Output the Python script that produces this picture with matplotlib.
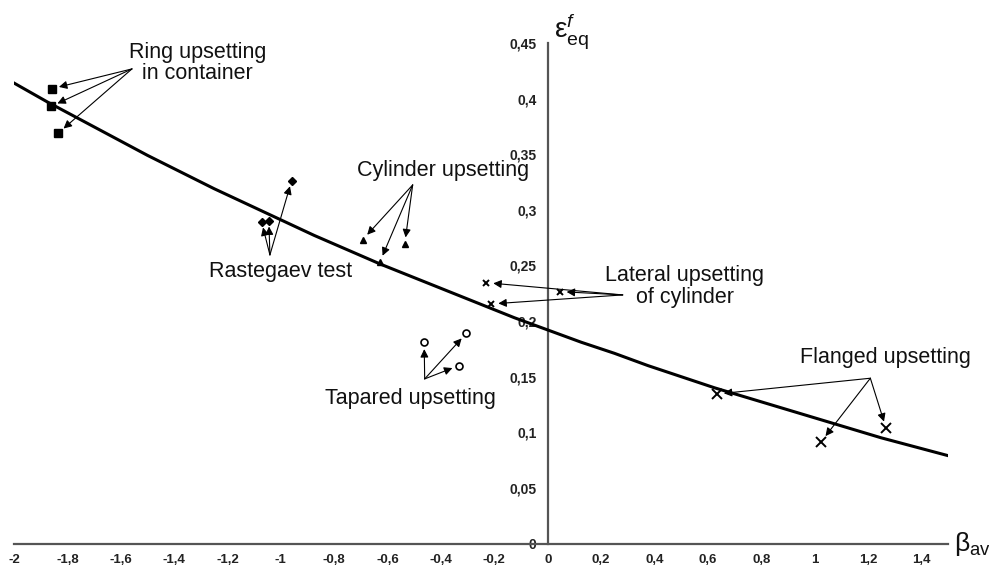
import matplotlib
matplotlib.use("Agg")
import matplotlib.pyplot as plt

plt.rcParams['font.family'] = ['Liberation Sans', 'DejaVu Sans']
plt.rcParams['mathtext.fontset'] = 'custom'
plt.rcParams['mathtext.rm'] = 'Liberation Sans'
plt.rcParams['mathtext.it'] = 'Liberation Sans:italic'

# fitted curve
curve_x = [-2.0, -1.875, -1.75, -1.625, -1.5, -1.375, -1.25, -1.125, -1.0,
           -0.875, -0.75, -0.625, -0.5, -0.375, -0.25, -0.125, 0.0,
           0.125, 0.25, 0.375, 0.5, 0.625, 0.75, 0.875, 1.0,
           1.125, 1.25, 1.375, 1.5]
curve_y = [0.414, 0.397, 0.381, 0.365, 0.349, 0.334, 0.319, 0.305, 0.291,
           0.277, 0.264, 0.251, 0.239, 0.227, 0.215, 0.203, 0.192,
           0.181, 0.171, 0.160, 0.150, 0.140, 0.131, 0.122, 0.113,
           0.104, 0.095, 0.087, 0.079]

# experimental points
ring_x = [-1.857, -1.861, -1.834]
ring_y = [0.409, 0.393, 0.369]
rast_x = [-1.072, -1.045, -0.960]
rast_y = [0.289, 0.290, 0.326]
cyl_x = [-0.694, -0.629, -0.536]
cyl_y = [0.273, 0.253, 0.269]
lat_x = [-0.230, -0.211, 0.045]
lat_y = [0.2345, 0.2154, 0.2265]
tap_x = [-0.463, -0.305, -0.333]
tap_y = [0.181, 0.189, 0.160]
fl_x = [0.634, 1.025, 1.268]
fl_y = [0.1344, 0.0916, 0.1036]

x_ticks = [-2, -1.8, -1.6, -1.4, -1.2, -1, -0.8, -0.6, -0.4, -0.2,
           0, 0.2, 0.4, 0.6, 0.8, 1, 1.2, 1.4]
x_labels = ["-2", "-1,8", "-1,6", "-1,4", "-1,2", "-1", "-0,8", "-0,6", "-0,4", "-0,2",
            "0", "0,2", "0,4", "0,6", "0,8", "1", "1,2", "1,4"]
y_ticks = [0, 0.05, 0.1, 0.15, 0.2, 0.25, 0.3, 0.35, 0.4, 0.45]
y_labels = ["0", "0,05", "0,1", "0,15", "0,2", "0,25", "0,3", "0,35", "0,4", "0,45"]

fig = plt.figure(figsize=(9.89, 5.68), dpi=100)
ax = fig.add_axes([14 / 989, 24.5 / 568, 934 / 989, 500.5 / 568])
ax.set_xlim(-2, 1.5)
ax.set_ylim(0, 0.45)

for s in ['top', 'right']:
    ax.spines[s].set_visible(False)
ax.spines['left'].set_position(('data', 0))
ax.spines['bottom'].set_position(('data', 0))
for s in ['left', 'bottom']:
    ax.spines[s].set_color('#555555')
    ax.spines[s].set_linewidth(1.6)

ax.set_xticks(x_ticks)
ax.set_xticklabels(x_labels, fontweight='bold', fontsize=9.5)
ax.set_yticks(y_ticks)
ax.set_yticklabels(y_labels, fontweight='bold', fontsize=10)
ax.tick_params(axis='x', length=0, pad=7.5, colors='#222222')
ax.tick_params(axis='y', length=0, pad=8, colors='#222222')
ax.patch.set_alpha(0)

ax.plot(curve_x, curve_y, color='black', lw=2.2, zorder=3)

ax.plot(ring_x, ring_y, 's', color='black', ms=5.5, zorder=4)
ax.plot(rast_x, rast_y, 'D', color='black', ms=4, zorder=4)
ax.plot(cyl_x, cyl_y, '^', color='black', ms=5, zorder=4)
ax.plot(lat_x, lat_y, 'x', color='black', ms=4.5, mew=1.4, zorder=4)
ax.plot(tap_x, tap_y, 'o', mfc='white', mec='black', ms=5, mew=1.2, zorder=4)
ax.plot(fl_x, fl_y, 'x', color='black', ms=6.5, mew=1.4, zorder=4)


def arrows(origin, xs, ys, shrink=5):
    for px, py in zip(xs, ys):
        ax.annotate('', xy=(px, py), xytext=origin,
                    arrowprops=dict(arrowstyle='-|>', color='black', lw=0.8,
                                    mutation_scale=12, shrinkA=0, shrinkB=shrink),
                    zorder=5)


arrows((-1.558, 0.4267), ring_x, ring_y)
arrows((-1.041, 0.2595), rast_x, rast_y, shrink=4)
arrows((-0.506, 0.3224), cyl_x, cyl_y)
arrows((0.281, 0.2235), lat_x, lat_y)
arrows((-0.461, 0.148), tap_x, tap_y)
arrows((1.209, 0.1486), fl_x, fl_y)

tkw = dict(fontsize=15.5, ha='center', va='center', color='#111111', linespacing=1.05)
ax.text(-1.311, 0.4320, "Ring upsetting\nin container", **tkw)
ax.text(-1.002, 0.2444, "Rastegaev test", **tkw)
ax.text(-0.391, 0.3355, "Cylinder upsetting", **tkw)
ax.text(-0.513, 0.130, "Tapared upsetting", **tkw)
ax.text(0.513, 0.2311, "Lateral upsetting\nof cylinder", **tkw)
ax.text(1.266, 0.1668, "Flanged upsetting", **tkw)

ax.text(0.025, 0.461, r'$\mathrm{ε}^{f}_{\mathrm{eq}}$', fontsize=20,
        ha='left', va='center', color='#111111')
ax.text(1.522, 0.0, r'$\mathrm{β}_{\mathrm{av}}$', fontsize=19,
        ha='left', va='center', color='#111111')

fig.savefig('out.png', dpi=100)
